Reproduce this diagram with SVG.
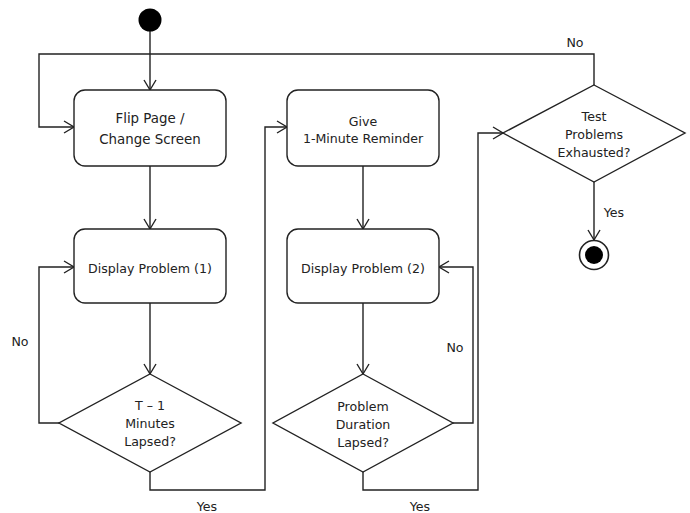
<svg xmlns="http://www.w3.org/2000/svg" width="690" height="513" viewBox="0 0 690 513">
<style>
.n{fill:#fff;stroke:#222;stroke-width:1.4}
.c{fill:none;stroke:#222;stroke-width:1.4}
text{font-family:"DejaVu Sans",Verdana,sans-serif;font-size:12.6px;fill:#222;text-anchor:middle;dominant-baseline:central}
.big{font-size:13.4px}
</style>
<defs>
<marker id="a" markerUnits="userSpaceOnUse" markerWidth="14" markerHeight="16" viewBox="-11 -8 14 16" refX="0" refY="0" orient="auto">
<path d="M-10,-6 L0,0 L-10,6" fill="none" stroke="#222" stroke-width="1.4"/>
</marker>
</defs>
<rect width="690" height="513" fill="#fff"/>
<g id="connectors">
<path class="c" d="M150,31 V90" marker-end="url(#a)"/>
<path class="c" d="M150,166 V229" marker-end="url(#a)"/>
<path class="c" d="M150,303 V374" marker-end="url(#a)"/>
<path class="c" d="M59,423 H39 V267 H74" marker-end="url(#a)"/>
<path class="c" d="M150,472 V490 H265 V127 H287" marker-end="url(#a)"/>
<path class="c" d="M363,166 V229" marker-end="url(#a)"/>
<path class="c" d="M363,303 V374" marker-end="url(#a)"/>
<path class="c" d="M453,423 H473 V267 H439" marker-end="url(#a)"/>
<path class="c" d="M363,472 V490 H478 V133 H503" marker-end="url(#a)"/>
<path class="c" d="M594,85 V54 H39 V127 H74" marker-end="url(#a)"/>
<path class="c" d="M594,182 V240" marker-end="url(#a)"/>
<text x="575" y="42">No</text>
<text x="20" y="341">No</text>
<text x="207" y="506">Yes</text>
<text x="455" y="347">No</text>
<text x="420" y="506">Yes</text>
<text x="614" y="212">Yes</text>
</g>
<g id="start"><circle cx="150" cy="20" r="11.5" fill="#000"/></g>
<g id="flip"><rect class="n" x="74" y="90" width="152" height="76" rx="11"/>
<text class="big" x="150" y="118">Flip Page /</text><text class="big" x="150" y="139">Change Screen</text></g>
<g id="display1"><rect class="n" x="74" y="229" width="152" height="74" rx="11"/>
<text x="150" y="268">Display Problem (1)</text></g>
<g id="decision1"><polygon class="n" points="150,374 241,423 150,472 59,423"/>
<text x="150" y="405">T – 1</text><text x="150" y="423">Minutes</text><text x="150" y="441">Lapsed?</text></g>
<g id="reminder"><rect class="n" x="287" y="90" width="152" height="76" rx="11"/>
<text x="363" y="121">Give</text><text x="363" y="138">1-Minute Reminder</text></g>
<g id="display2"><rect class="n" x="287" y="229" width="152" height="74" rx="11"/>
<text x="363" y="268">Display Problem (2)</text></g>
<g id="decision2"><polygon class="n" points="363,374 453,423 363,472 273,423"/>
<text x="363" y="406">Problem</text><text x="363" y="424">Duration</text><text x="363" y="442">Lapsed?</text></g>
<g id="decision3"><polygon class="n" points="594,85 685,133 594,182 503,133"/>
<text x="594" y="116">Test</text><text x="594" y="134">Problems</text><text x="594" y="152">Exhausted?</text></g>
<g id="end"><circle cx="594" cy="255" r="14.5" fill="#fff" stroke="#222" stroke-width="1.6"/><circle cx="594" cy="255" r="9" fill="#000"/></g>
</svg>
